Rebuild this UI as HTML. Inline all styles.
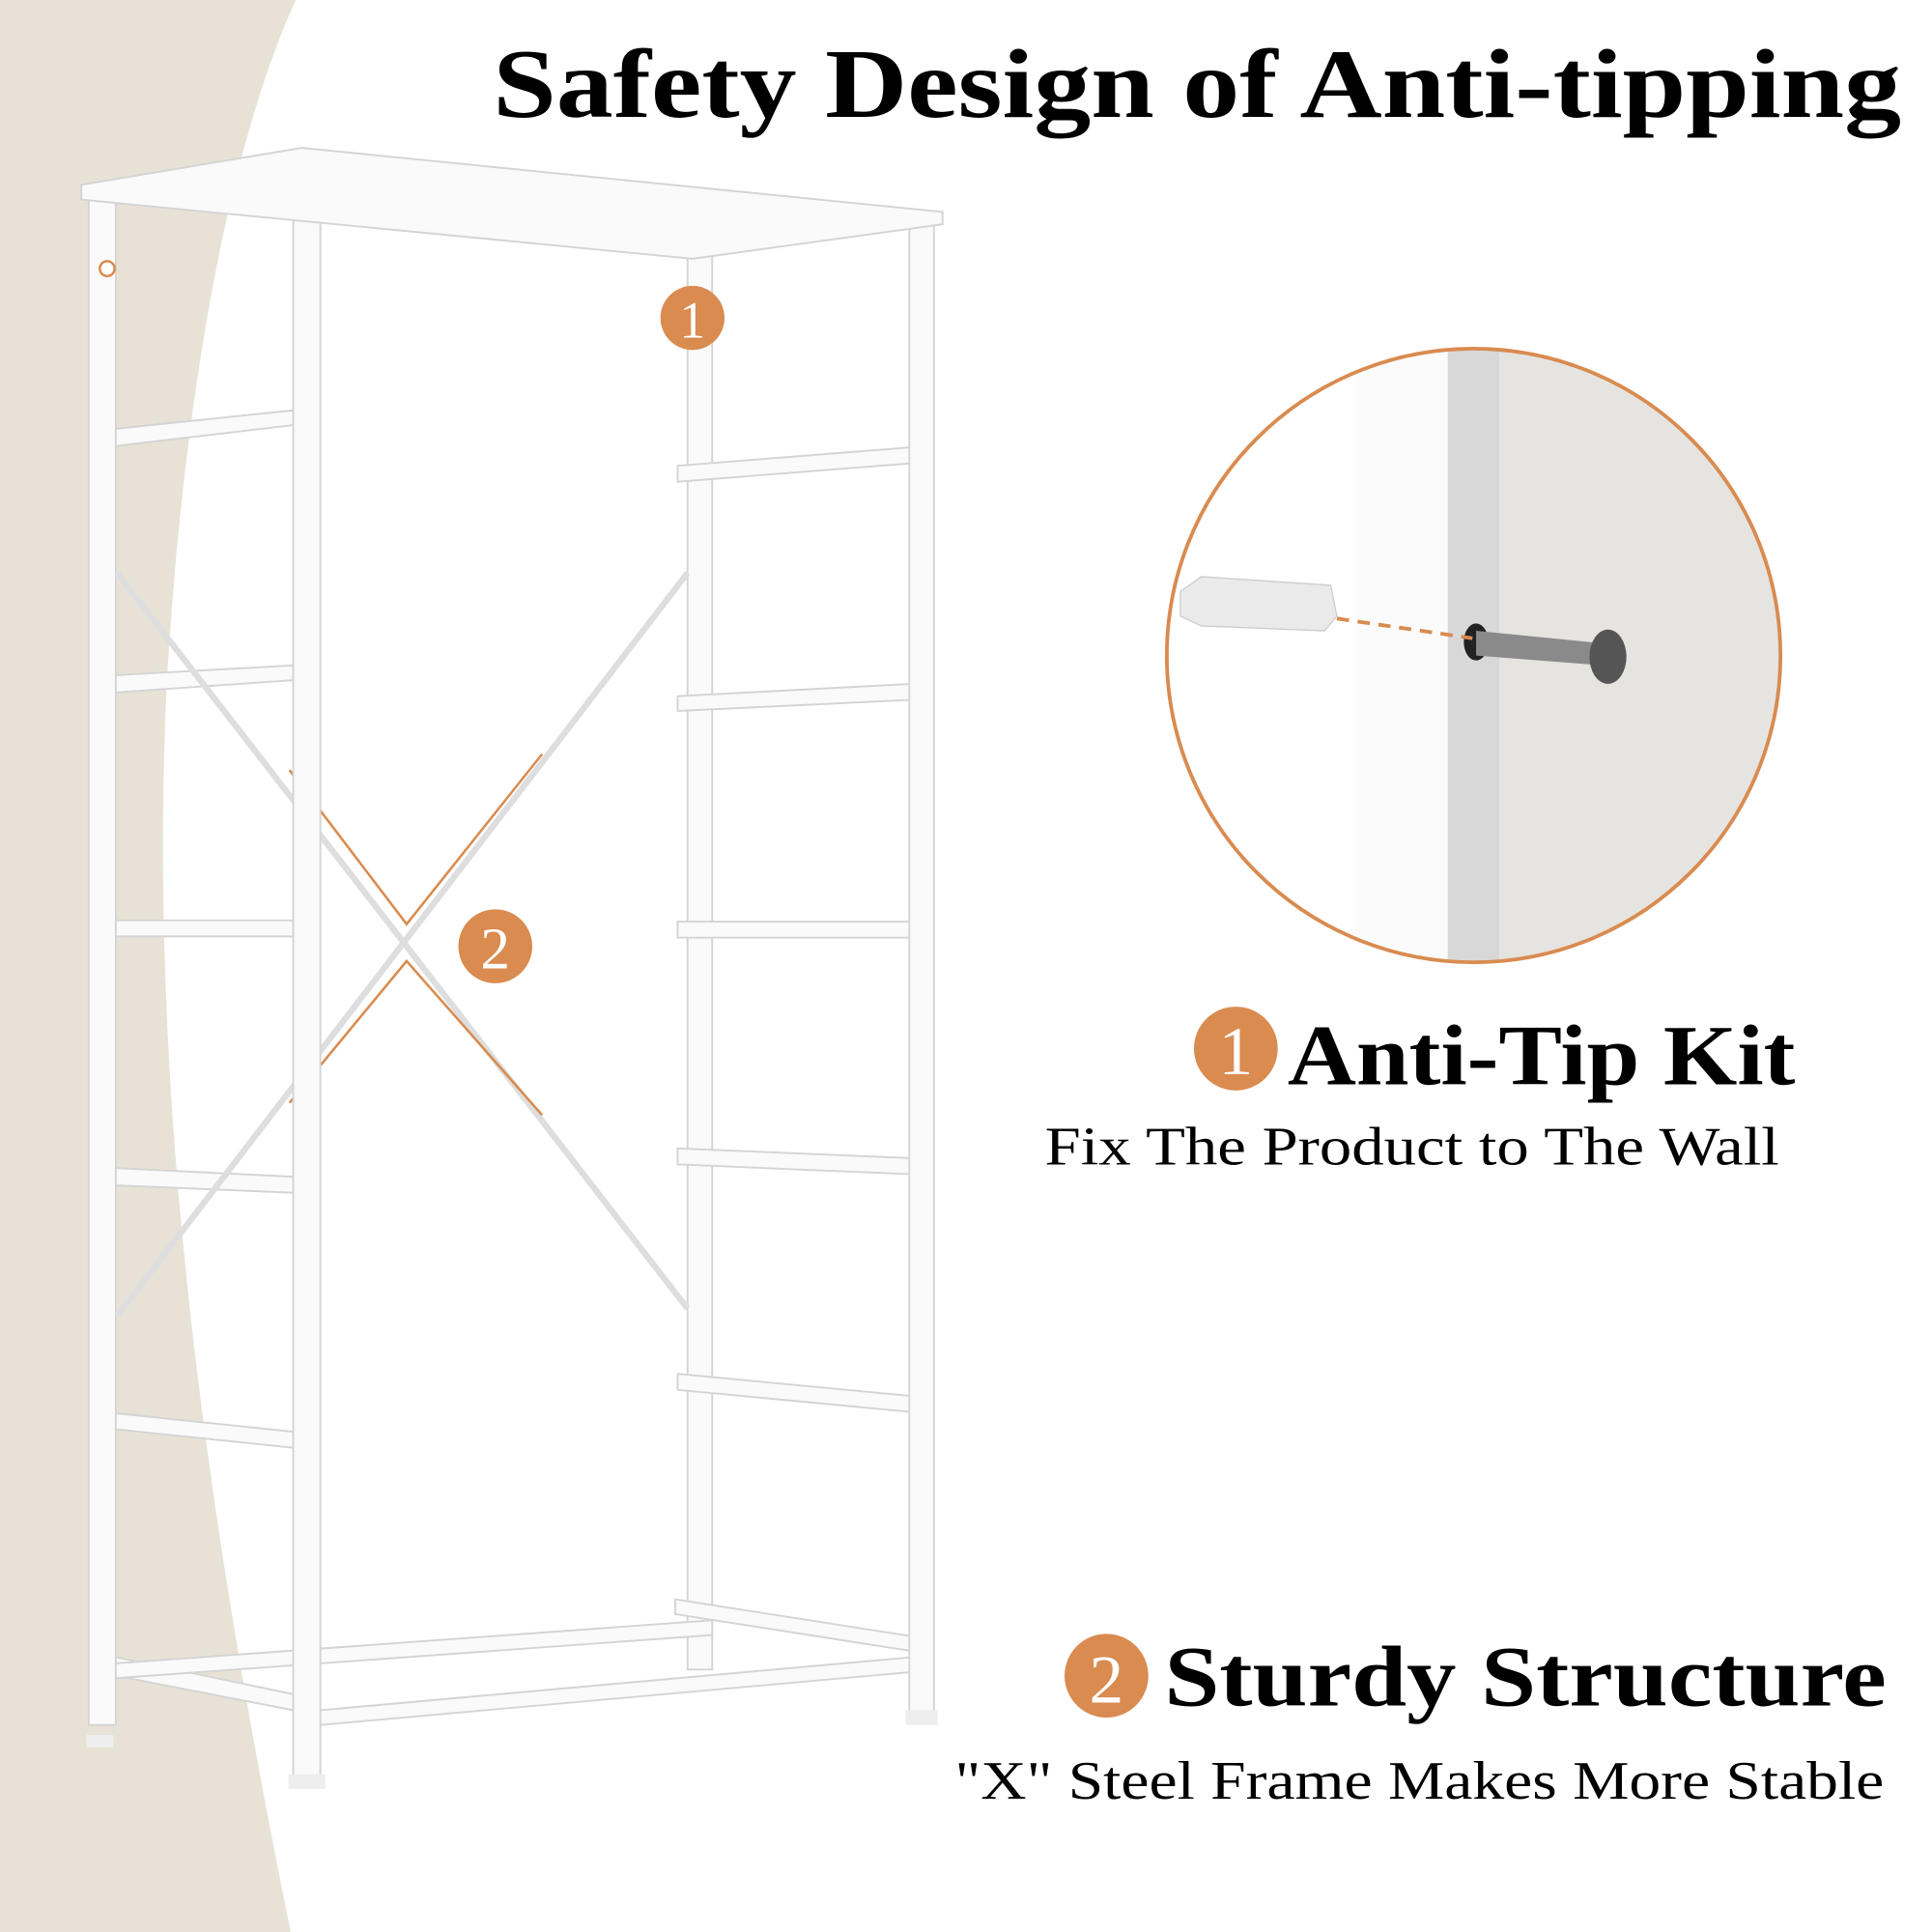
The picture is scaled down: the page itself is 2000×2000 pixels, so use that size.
<!DOCTYPE html>
<html><head><meta charset="utf-8"><style>html,body{margin:0;padding:0;background:#fff}svg{display:block}</style></head>
<body>
<svg width="2000" height="2000" viewBox="0 0 1568 1568" xmlns="http://www.w3.org/2000/svg">
<defs><clipPath id="cc"><circle cx="1196" cy="532" r="249"/></clipPath></defs>
<rect width="1568" height="1568" fill="#fff"/>
<path d="M0 0 L240 0 C190 110 150 300 135 560 C125 800 140 1100 236 1568 L0 1568 Z" fill="#e8e2d6"/>
<!-- frame -->
<g fill="#fafafa" stroke="#d4d4d4" stroke-width="1.5">
<rect x="72" y="160" width="22" height="1240"/>
<rect x="558" y="205" width="20" height="1150"/>
<!-- left rails -->
<polygon points="94,348 238,333 238,345 94,362"/>
<polygon points="94,548 238,540 238,552 94,562"/>
<polygon points="94,747 238,747 238,760 94,760"/>
<polygon points="94,948 238,955 238,968 94,962"/>
<polygon points="94,1147 238,1162 238,1175 94,1160"/>
<polygon points="94,1345 238,1375 238,1388 94,1360"/>
<!-- right rails -->
<polygon points="550,378 740,363 740,376 550,391"/>
<polygon points="550,565 740,555 740,568 550,577"/>
<polygon points="550,748 740,748 740,761 550,761"/>
<polygon points="550,932 740,940 740,953 550,945"/>
<polygon points="550,1115 740,1133 740,1146 550,1128"/>
<polygon points="548,1298 740,1328 740,1340 548,1310"/>
<!-- bottom rails -->
<polygon points="94,1350 578,1315 578,1327 94,1362"/>
<polygon points="260,1388 740,1345 740,1357 260,1400"/>
</g>
<g stroke="#dedede" stroke-width="5" fill="none">
<line x1="95" y1="465" x2="558" y2="1062"/>
<line x1="558" y1="465" x2="95" y2="1068"/>
</g>
<g stroke="#d98b50" stroke-width="2" fill="none">
<polyline points="440,612 330,750 235,625"/>
<polyline points="440,905 330,780 235,895"/>
</g>
<g fill="#fafafa" stroke="#d4d4d4" stroke-width="1.5">
<rect x="238" y="135" width="22" height="1310"/>
<rect x="738" y="180" width="20" height="1215"/>
<polygon points="66,150 245,120 765,172 765,182 562,210 66,162"/>
</g>
<rect x="70" y="1408" width="22" height="10" fill="#eee"/>
<rect x="234" y="1440" width="30" height="12" fill="#eee"/>
<rect x="735" y="1388" width="26" height="12" fill="#eee"/>
<circle cx="87" cy="218" r="6" fill="#fff" stroke="#d98b50" stroke-width="2"/>
<!-- badges -->
<g font-family="Liberation Serif, serif" fill="#fff" text-anchor="middle">
<circle cx="562" cy="258" r="26" fill="#d98b50"/><text x="562" y="274" font-size="42" fill="#fff">1</text>
<circle cx="402" cy="768" r="30" fill="#d98b50"/><text x="402" y="786" font-size="48" fill="#fff">2</text>
<circle cx="1003" cy="851" r="34" fill="#d98b50"/><text x="1003" y="872" font-size="56" fill="#fff">1</text>
<circle cx="898" cy="1360" r="34" fill="#d98b50"/><text x="898" y="1382" font-size="56" fill="#fff">2</text>
</g>
<!-- detail circle -->
<g clip-path="url(#cc)">
<rect x="940" y="280" width="520" height="510" fill="#fff"/>
<rect x="1100" y="280" width="80" height="510" fill="#fbfbfb"/>
<rect x="1175" y="280" width="42" height="510" fill="#d8d8d8"/>
<rect x="1217" y="280" width="240" height="510" fill="#e6e4e0"/>
<polygon points="958,480 975,468 1080,475 1085,500 1075,512 975,508 958,500" fill="#eaeaea" stroke="#ccc"/>
<ellipse cx="1198" cy="521" rx="10" ry="15" fill="#222"/>
<polygon points="1198,512 1300,522 1300,540 1198,532" fill="#8a8a8a"/>
<ellipse cx="1305" cy="533" rx="15" ry="22" fill="#555"/>
<line x1="1085" y1="502" x2="1195" y2="518" stroke="#d98b50" stroke-width="3" stroke-dasharray="10,7"/>
</g>
<circle cx="1196" cy="532" r="249" fill="none" stroke="#d98b50" stroke-width="3"/>
<!-- text -->
<g font-family="Liberation Serif, serif" fill="#000">
<text x="400" y="95" font-size="80" font-weight="bold" textLength="1143" lengthAdjust="spacingAndGlyphs">Safety Design of Anti-tipping</text>
<text x="1045" y="880" font-size="70" font-weight="bold" textLength="412" lengthAdjust="spacingAndGlyphs">Anti-Tip Kit</text>
<text x="848" y="945" font-size="44" textLength="596" lengthAdjust="spacingAndGlyphs">Fix The Product to The Wall</text>
<text x="945" y="1384" font-size="70" font-weight="bold" textLength="586" lengthAdjust="spacingAndGlyphs">Sturdy Structure</text>
<text x="775" y="1460" font-size="44" textLength="754" lengthAdjust="spacingAndGlyphs">"X" Steel Frame Makes More Stable</text>
</g>
</svg>
</body></html>
